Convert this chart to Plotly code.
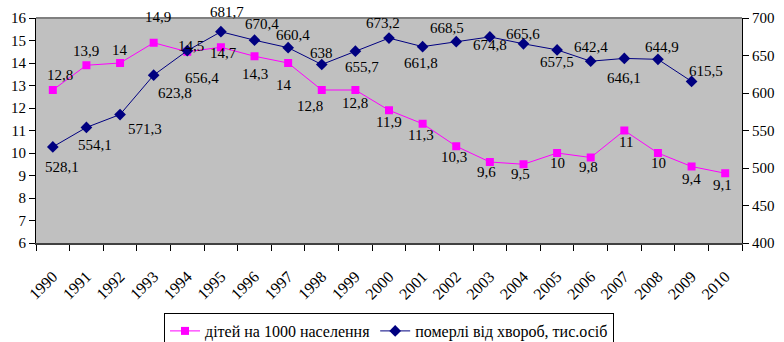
import plotly.graph_objects as go

years = [str(y) for y in range(1990, 2011)]
children = [12.8, 13.9, 14, 14.9, 14.5, 14.7, 14.3, 14, 12.8, 12.8, 11.9, 11.3, 10.3, 9.6, 9.5, 10, 9.8, 11, 10, 9.4, 9.1]
deaths_years = [str(y) for y in range(1990, 2010)]
deaths = [528.1, 554.1, 571.3, 623.8, 656.4, 681.7, 670.4, 660.4, 638, 655.7, 673.2, 661.8, 668.5, 674.8, 665.6, 657.5, 642.4, 646.1, 644.9, 615.5]

# label offsets (pixels: dx right, dy down) relative to each marker
pink_off = [(7, -15), (0, -14), (0, -13), (4, -26), (4, -6), (3, 6), (0, 18), (-4, 22), (-12, 16),
            (0, 13), (0, 12), (-2, 11), (-2, 11), (-3, 10), (-3, 10), (0, 10), (-2, 9), (2, 11),
            (1, 10), (0, 12), (-3, 12)]
blue_off = [(9, 20), (9, 18), (25, 14), (21, 18), (15, 27), (6, -20), (7, -16), (5, -13), (0, -12),
            (7, 16), (-6, -15), (-2, 16), (-9, -14), (0, 8), (0, -10), (0, 12), (0, -14), (0, 20),
            (4, -12), (14, -10)]

def fmt(v):
    return str(v).replace('.', ',')

FONT = "Times New Roman, Liberation Serif, DejaVu Serif, serif"

fig = go.Figure()
fig.add_trace(go.Scatter(
    x=years, y=children, name="дітей на 1000 населення", mode="lines+markers",
    line=dict(color="#FF00FF", width=1), marker=dict(symbol="square", size=8, color="#FF00FF")))
fig.add_trace(go.Scatter(
    x=deaths_years, y=deaths, name="померлі від хвороб, тис.осіб", yaxis="y2", mode="lines+markers",
    line=dict(color="#000080", width=1), marker=dict(symbol="diamond", size=9, color="#000080")))

for i, (v, (dx, dy)) in enumerate(zip(children, pink_off)):
    fig.add_annotation(x=i, y=v, xref="x", yref="y", text=fmt(v), showarrow=False,
                       xshift=dx, yshift=-dy, font=dict(family=FONT, size=15, color="black"))
for i, (v, (dx, dy)) in enumerate(zip(deaths, blue_off)):
    fig.add_annotation(x=i, y=v, xref="x", yref="y2", text=fmt(v), showarrow=False,
                       xshift=dx, yshift=-dy, font=dict(family=FONT, size=15, color="black"))

fig.update_layout(
    width=784, height=342,
    margin=dict(l=36, r=42, t=18, b=99),
    paper_bgcolor="white", plot_bgcolor="#C0C0C0",
    font=dict(family=FONT, size=15, color="black"),
    xaxis=dict(type="category", categoryorder="array", categoryarray=years,
               range=[-0.5, 20.5], tickson="boundaries", ticks="outside", ticklen=6,
               tickcolor="black", tickangle=-45, showgrid=False, showline=True,
               linecolor="#404040", linewidth=2, ticklabelstandoff=16, automargin=False,
               tickfont=dict(family=FONT, size=16)),
    yaxis=dict(range=[6, 16], dtick=1, ticks="outside", ticklen=6, tickcolor="black",
               showgrid=False, showline=True, linecolor="black", linewidth=1, automargin=False,
               zeroline=False, tickfont=dict(family=FONT, size=15)),
    yaxis2=dict(range=[400, 700], dtick=50, overlaying="y", side="right", ticks="outside",
                ticklen=6, tickcolor="black", showgrid=False, showline=True, automargin=False,
                linecolor="black", linewidth=1, zeroline=False,
                tickfont=dict(family=FONT, size=15)),
    legend=dict(orientation="h", xref="paper", x=0.5, xanchor="center",
                yref="container", y=(342 - 313) / 342, yanchor="top",
                bordercolor="black", borderwidth=1, bgcolor="white",
                font=dict(family=FONT, size=16)),
    shapes=[dict(type="line", xref="paper", yref="paper", x0=0, x1=1, y0=1, y1=1,
                 line=dict(color="#808080", width=2))],
)

fig.write_html("out.html")
